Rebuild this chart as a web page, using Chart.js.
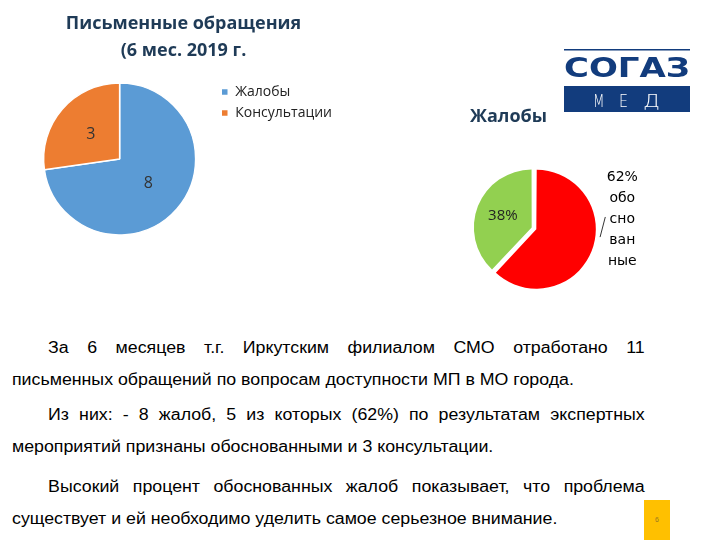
<!DOCTYPE html>
<html>
<head>
<meta charset="utf-8">
<script src="https://cdn.jsdelivr.net/npm/chart.js@4.4.0/dist/chart.umd.min.js"></script>
<style>
    body { margin: 0; width: 720px; height: 540px; background: #fff; position: relative; overflow: hidden; }
    #lettersBox { position: absolute; left: 0; top: 0; width: 358px; height: 250px; }
    #complaintsBox { position: absolute; left: 440px; top: 100px; width: 215px; height: 211px; }
    .logo { position: absolute; left: 560px; top: 44px; }
    .text {
        position: absolute; left: 12px; top: 332px; width: 570px;
        transform: scaleX(1.11); transform-origin: 0 0;
        font-family: "Liberation Sans", Arial, sans-serif;
        font-size: 16px; line-height: 32px; color: #000;
    }
    .text p { margin: 0; }
    .text .p1 { margin-bottom: 3px; }
    .text .p2 { margin-bottom: 8px; }
    .text span { display: block; white-space: nowrap; }
    .text span.j { text-align: justify; text-align-last: justify; text-indent: 32.5px; white-space: normal; }
    .page {
        position: absolute; left: 644px; top: 500px; width: 26px; height: 40px; background: #ffc000;
        font: 7px "Liberation Sans", sans-serif; color: #9a7a20; text-align: center; line-height: 40px;
    }
</style>
</head>
<body>
<div id="lettersBox"><canvas id="lettersChart"></canvas></div>
<div id="complaintsBox"><canvas id="complaintsChart"></canvas></div>

<svg class="logo" width="134" height="72" viewBox="560 44 134 72">
    <rect x="564" y="49" width="126" height="1.5" fill="#123c7d"/>
    <text x="564" y="77" textLength="126" lengthAdjust="spacingAndGlyphs"
          font-family="DejaVu Sans" font-weight="bold" font-size="26" fill="#123c7d">СОГАЗ</text>
    <rect x="564" y="86" width="126" height="26" fill="#123c7d"/>
    <g font-family="DejaVu Sans" font-weight="200" font-size="18" fill="#fff">
        <text x="593" y="106.5" textLength="11.5" lengthAdjust="spacingAndGlyphs">М</text>
        <text x="619" y="106.5" textLength="9" lengthAdjust="spacingAndGlyphs">Е</text>
        <text x="643" y="106.5" textLength="17" lengthAdjust="spacingAndGlyphs">Д</text>
    </g>
</svg>

<div class="text">
    <p class="p1"><span class="j">За 6 месяцев т.г. Иркутским филиалом СМО отработано 11</span><span>письменных обращений по вопросам доступности МП в МО города.</span></p>
    <p class="p2"><span class="j">Из них: - 8 жалоб, 5 из которых (62%) по результатам экспертных</span><span>мероприятий признаны обоснованными и 3 консультации.</span></p>
    <p><span class="j">Высокий процент обоснованных жалоб показывает, что проблема</span><span>существует и ей необходимо уделить самое серьезное внимание.</span></p>
</div>
<div class="page">6</div>

<script>
// письменные обращения за 6 мес.
const letterTypes = ['Жалобы', 'Консультации'];
const letterCounts = [8, 3];
const letterColors = ['#5b9bd5', '#ed7d31'];

// жалобы, %
const complaintTypes = ['обоснованные', 'необоснованные'];
const complaintShares = [62, 38];
const complaintColors = ['#ff0000', '#92d050'];

const titleColor = '#1f3b57';

function chunk(str, n) {
    const out = [];
    for (let i = 0; i < str.length; i += n) out.push(str.slice(i, i + n));
    return out;
}

// подписи значений на секторах
const sliceLabels = {
    id: 'sliceLabels',
    afterDatasetsDraw(chart, args, opts) {
        const ctx = chart.ctx;
        const ds = chart.data.datasets[0];
        chart.getDatasetMeta(0).data.forEach((arc, i) => {
            const value = ds.data[i];
            ctx.save();
            ctx.fillStyle = opts.color;
            ctx.textAlign = 'center';
            ctx.textBaseline = 'middle';
            if (i === opts.outsideIndex) {
                const p = arc.getProps(['x', 'y', 'startAngle', 'endAngle', 'outerRadius']);
                const mid = (p.startAngle + p.endAngle) / 2;
                const off = arc.options.offset;
                const cx = p.x + Math.cos(mid) * off;
                const cy = p.y + Math.sin(mid) * off;
                const lines = [value + opts.suffix].concat(chunk(chart.data.labels[i], 3));
                const lx = cx + p.outerRadius + opts.outsideGap;
                const ly = cy + opts.outsideShift;
                ctx.font = opts.outsideFont;
                ctx.fillStyle = '#000';
                lines.forEach((t, k) => ctx.fillText(t, lx, ly + (k - (lines.length - 1) / 2) * opts.lineHeight));
                ctx.strokeStyle = '#000';
                ctx.lineWidth = 0.8;
                ctx.beginPath();
                ctx.moveTo(cx + p.outerRadius * Math.cos(0.09), cy + p.outerRadius * Math.sin(0.09));
                ctx.lineTo(lx - 17, ly - 2);
                ctx.stroke();
            } else {
                const c = arc.getCenterPoint();
                ctx.font = opts.labelFont;
                ctx.fillText(value + opts.suffix, c.x, c.y);
            }
            ctx.restore();
        });
    }
};

new Chart(document.getElementById('lettersChart'), {
    type: 'pie',
    data: {
        labels: letterTypes,
        datasets: [{
            data: letterCounts,
            backgroundColor: letterColors,
            borderColor: '#fff',
            borderWidth: 1.5,
            radius: 76
        }]
    },
    options: {
        responsive: true,
        maintainAspectRatio: false,
        animation: false,
        layout: { padding: { left: 25, right: 16, top: 0, bottom: 10 } },
        plugins: {
            title: {
                display: true,
                text: ['Письменные обращения', '(6 мес. 2019 г.'],
                color: titleColor,
                font: { family: 'Open Sans', size: 18, weight: 'bold', lineHeight: 1.5 },
                padding: { top: 10, bottom: 14 }
            },
            legend: {
                position: 'right',
                align: 'start',
                fullSize: false,
                labels: {
                    boxWidth: 7, boxHeight: 7, padding: 7,
                    color: '#222',
                    font: { family: 'Open Sans', size: 14 }
                }
            },
            tooltip: { enabled: false },
            sliceLabels: {
                labelFont: '16px "Open Sans"',
                color: '#333',
                suffix: '',
                outsideIndex: -1
            }
        }
    },
    plugins: [sliceLabels]
});

new Chart(document.getElementById('complaintsChart'), {
    type: 'pie',
    data: {
        labels: complaintTypes,
        datasets: [{
            data: complaintShares,
            backgroundColor: complaintColors,
            borderWidth: 0,
            offset: 10,
            radius: 57
        }]
    },
    options: {
        responsive: true,
        maintainAspectRatio: false,
        animation: false,
        layout: { padding: { left: 30, right: 57, top: 0, bottom: 0 } },
        plugins: {
            title: {
                display: true,
                text: 'Жалобы',
                align: 'start',
                color: titleColor,
                font: { family: 'Open Sans', size: 18, weight: 'bold', lineHeight: 1.2 },
                padding: { top: 6, bottom: 18 }
            },
            legend: { display: false },
            tooltip: { enabled: false },
            sliceLabels: {
                labelFont: '15px "Open Sans"',
                outsideFont: '14px "DejaVu Sans"',
                color: '#222',
                suffix: '%',
                outsideIndex: 0,
                outsideGap: 22,
                outsideShift: -13,
                lineHeight: 21
            }
        }
    },
    plugins: [sliceLabels]
});
</script>
</body>
</html>
